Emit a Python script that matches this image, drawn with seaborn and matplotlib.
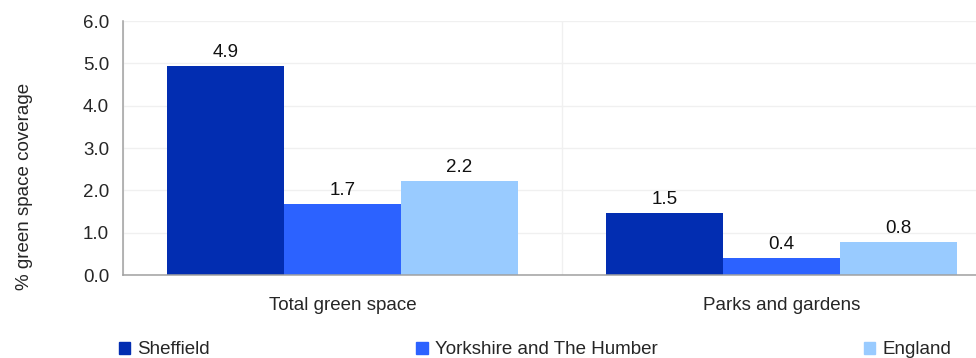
import numpy as np
import pandas as pd
import matplotlib
matplotlib.use('Agg')
import matplotlib.pyplot as plt
import seaborn as sns

# --- datos ---
categorias = ['Total green space', 'Parks and gardens']
areas = ['Sheffield', 'Yorkshire and The Humber', 'England']
sheffield = [4.94, 1.46]
yorkshire = [1.68, 0.40]
england = [2.22, 0.78]
colores = ['#022DB1', '#2C62FF', '#99CBFF']

df = pd.DataFrame({
    'categoria': categorias * 3,
    'area': [a for a in areas for _ in categorias],
    'valor': sheffield + yorkshire + england,
})

sns.set_style('white')
plt.rcParams['font.family'] = ['Liberation Sans', 'DejaVu Sans']
fs = 13.5

fig = plt.figure(figsize=(9.76, 3.58), dpi=100)
# el eje se sale por la derecha (la imagen original está recortada)
ax = fig.add_axes([123 / 976, 1 - 275 / 358, 878 / 976, 254 / 358])

sns.barplot(data=df, x='categoria', y='valor', hue='area', hue_order=areas,
            palette=colores, width=0.8, saturation=1, linewidth=0,
            ax=ax, legend=False)

for cont in ax.containers:
    ax.bar_label(cont, fmt='%.1f', padding=3.5, fontsize=fs, color='#111111')

ax.set_xlim(-0.5, 1.5)
ax.set_ylim(0, 6)
ax.set_yticks(np.arange(0, 6.1, 1.0))
ax.set_yticklabels([f'{v:.1f}' for v in np.arange(0, 6.1, 1.0)])

# ticks de categoría en los límites, etiquetas centradas
ax.set_xticks([-0.5, 0.5, 1.5], minor=True)
ax.tick_params(axis='x', which='major', length=0, pad=15.5, labelsize=fs)
ax.tick_params(axis='x', which='minor', length=5, width=1, color='#a0a0a0', direction='out')
ax.tick_params(axis='y', which='major', length=4, width=1, color='#a0a0a0', direction='out',
               pad=6, labelsize=fs)
ax.set_xlabel('')

ax.grid(axis='y', color='#f0f0f0', linewidth=1)
ax.grid(axis='x', which='minor', color='#f0f0f0', linewidth=1)
ax.set_axisbelow(True)

for s in ['top', 'right']:
    ax.spines[s].set_visible(False)
for s in ['left', 'bottom']:
    ax.spines[s].set_color('#a0a0a0')
    ax.spines[s].set_linewidth(1.1)

ax.set_ylabel('% green space coverage', fontsize=fs, ha='center', va='center')
ax.yaxis.set_label_coords((25 - 123) / 878, (275 - 186) / 254)

handles = [plt.Rectangle((0, 0), 1, 1, color=c) for c in colores]
fig.legend(handles, areas, ncol=3, loc='center left',
           bbox_to_anchor=(119 / 976, 1 - 350 / 358), frameon=False,
           handlelength=0.6, handleheight=0.6, handletextpad=0.38,
           columnspacing=11.0, borderpad=0, borderaxespad=0, fontsize=fs)

plt.savefig('out.png', dpi=100)
